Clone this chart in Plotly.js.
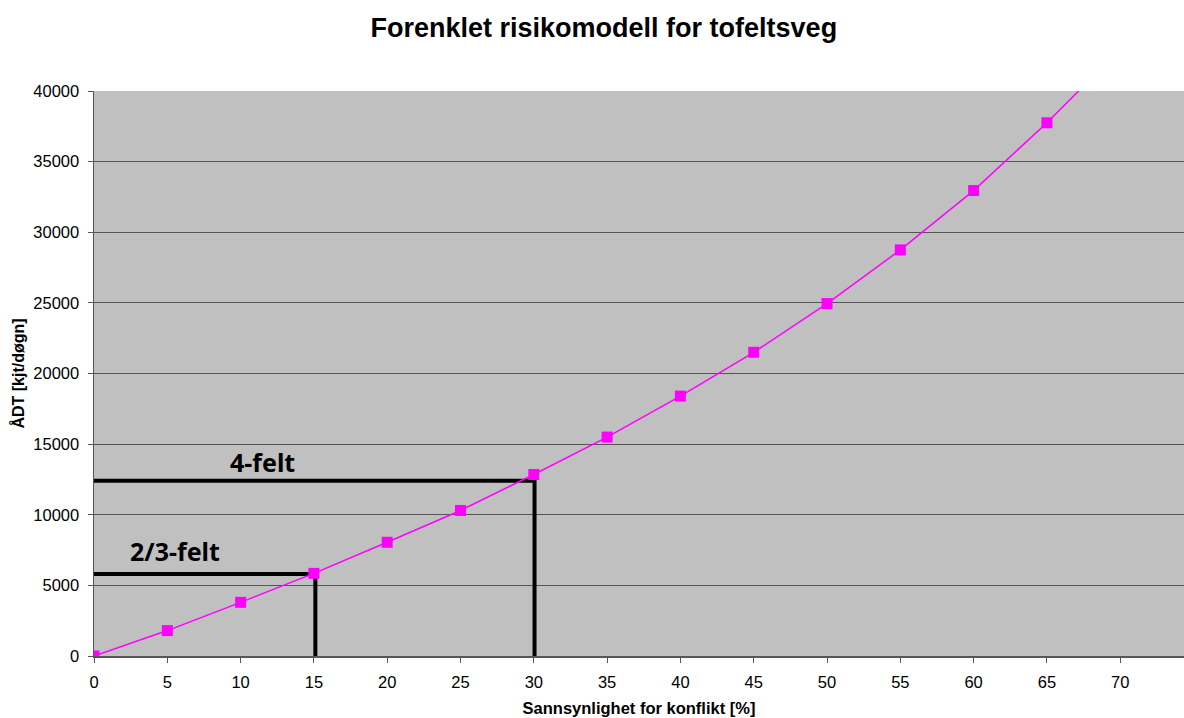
<!DOCTYPE html>
<html>
<head>
<meta charset="utf-8">
<script src="https://cdn.plot.ly/plotly-3.0.1.min.js"></script>
<style>html,body{margin:0;padding:0;background:#fff;}#chart{width:1184px;height:718px;}</style>
</head>
<body>
<div id="chart"></div>
<script>
// Sannsynlighet for konflikt [%]
var probability = [0, 5, 10, 15, 20, 25, 30, 35, 40, 45, 50, 55, 60, 65, 70];
// ÅDT [kjt/døgn]
var adt = [0, 1800, 3800, 5850, 8050, 10300, 12850, 15500, 18400, 21500, 24950, 28750, 32950, 37750, 42950];

// Threshold guides
var felt23X = [0, 15.1, 15.1];
var felt23Y = [5800, 5800, 0];
var felt4X = [0, 30.05, 30.05];
var felt4Y = [12400, 12400, 0];

var labelText = ["4-felt", "2/3-felt"];
var labelX = [11.5, 5.5];
var labelY = [13750, 7450];

var xTicks = [0, 5, 10, 15, 20, 25, 30, 35, 40, 45, 50, 55, 60, 65, 70];
var yTicks = [0, 5000, 10000, 15000, 20000, 25000, 30000, 35000, 40000];

var traces = [
  {x: felt23X, y: felt23Y, mode: 'lines', line: {color: '#000', width: 4}, hoverinfo: 'skip', showlegend: false},
  {x: felt4X, y: felt4Y, mode: 'lines', line: {color: '#000', width: 4}, hoverinfo: 'skip', showlegend: false},
  {x: probability, y: adt, mode: 'lines+markers',
   line: {color: '#FF00FF', width: 1.5},
   marker: {symbol: 'square', size: 11, color: '#FF00FF'},
   showlegend: false}
];

var annotations = labelText.map(function(t, i) {
  return {x: labelX[i], y: labelY[i], xref: 'x', yref: 'y', text: '<b>' + t + '</b>', showarrow: false,
          font: {family: 'Noto Sans, Open Sans, sans-serif', size: 25, color: '#000'}};
});

var layout = {
  width: 1184, height: 718,
  margin: {l: 94, r: 0, t: 91, b: 62},
  paper_bgcolor: '#ffffff',
  plot_bgcolor: '#C0C0C0',
  title: {text: '<b>Forenklet risikomodell for tofeltsveg</b>', x: 0.51, xref: 'container', xanchor: 'center',
          y: 0.962, yref: 'container', yanchor: 'middle',
          font: {family: 'Liberation Sans, Arial, sans-serif', size: 27, color: '#000'}},
  xaxis: {
    range: [0, 74.35], tickvals: xTicks, ticktext: xTicks.map(String),
    showgrid: false, zeroline: false,
    showline: true, linecolor: '#555', linewidth: 1.5,
    ticks: 'outside', ticklen: 5, tickcolor: '#555', ticklabelstandoff: 6,
    tickfont: {family: 'Liberation Sans, Arial, sans-serif', size: 16.5, color: '#000'},
    title: {text: '<b>Sannsynlighet for konflikt [%]</b>', standoff: 12,
            font: {family: 'Liberation Sans, Arial, sans-serif', size: 16.5, color: '#000'}}
  },
  yaxis: {
    range: [0, 40000], tickvals: yTicks, ticktext: yTicks.map(String),
    showgrid: true, gridcolor: '#555', gridwidth: 1, zeroline: false,
    showline: true, linecolor: '#555', linewidth: 1.5,
    ticks: 'outside', ticklen: 5, tickcolor: '#555', ticklabelstandoff: 5,
    tickfont: {family: 'Liberation Sans, Arial, sans-serif', size: 16.5, color: '#000'},
    title: {text: '<b>ÅDT [kjt/døgn]</b>', standoff: 4,
            font: {family: 'Liberation Sans, Arial, sans-serif', size: 16, color: '#000'}}
  },
  annotations: annotations
};

Plotly.newPlot('chart', traces, layout, {displayModeBar: false, staticPlot: true});
</script>
</body>
</html>
